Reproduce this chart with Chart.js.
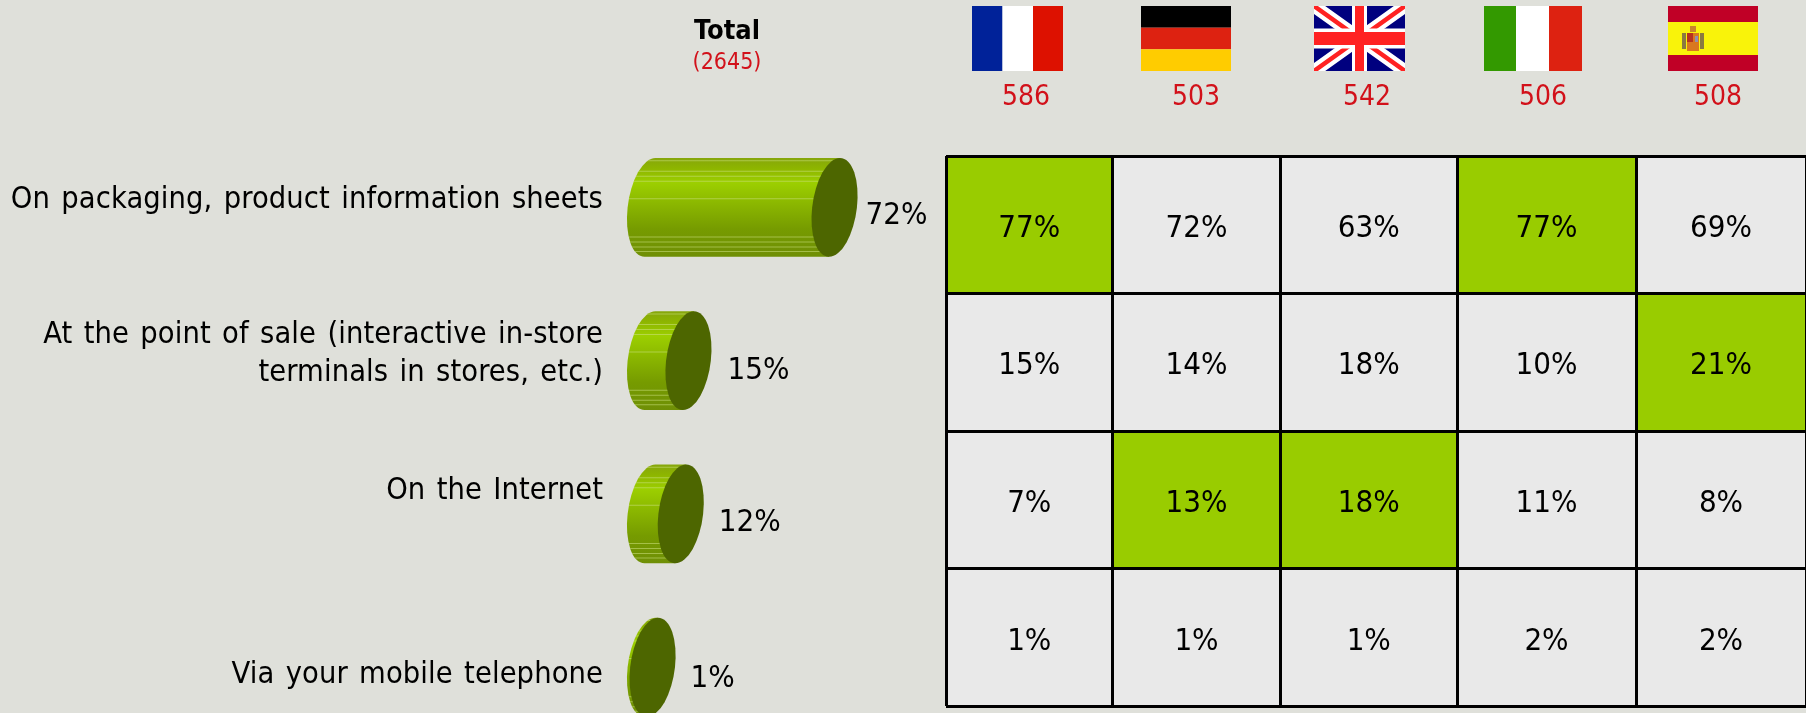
<!DOCTYPE html>
<html>
<head>
<meta charset="utf-8">
<title>Total and country table</title>
<script src="https://cdn.jsdelivr.net/npm/chart.js@4"></script>
<style>
    html, body { margin: 0; width: 1806px; height: 713px; overflow: hidden; background: #dfe0da; }
    canvas { position: absolute; left: 0; top: 0; }
</style>
</head>
<body>
<canvas id="totalChart" width="1806" height="760"></canvas>
<canvas id="tableChart" width="1806" height="713"></canvas>
<script>
const rows = [
    ["On packaging, product information sheets"],
    ["At the point of sale (interactive in-store", "terminals in stores, etc.)"],
    ["On the Internet"],
    ["Via your mobile telephone"]
];
const totalValues = [72, 15, 12, 1];
const totalBase = 2645;

const countries = ["France", "Germany", "United Kingdom", "Italy", "Spain"];
const sampleSizes = [586, 503, 542, 506, 508];

const franceValues = [77, 15, 7, 1];
const germanyValues = [72, 14, 13, 1];
const ukValues = [63, 18, 18, 1];
const italyValues = [77, 10, 11, 2];
const spainValues = [69, 21, 8, 2];
const countryValues = [franceValues, germanyValues, ukValues, italyValues, spainValues];

// [row, country] of the green cells
const highlighted = [[0, 0], [0, 3], [1, 4], [2, 1], [2, 2]];

// layout
const FONT = '"DejaVu Sans Condensed", "DejaVu Sans", sans-serif';
const GREEN = "#99cc00";
const DARK_GREEN = "#4d6600";
const CELL_GREY = "#e9e9e9";
const RED = "#d2111a";
const columnWidths = [166.5, 168, 176.5, 179, 170];
const labelBaselines = [[208], [342.5, 380.5], [499], [683]];
const valueOffsets = [[8, 17], [16, 18], [15, 17], [15, 20]];
const countX = [1026, 1196, 1367, 1543, 1718];
const streaks = [0.03, 0.135, 0.185, 0.236, 0.414, 0.8, 0.85, 0.9, 0.945];

function drawText(ctx, str, x, y, font, color, align) {
    ctx.font = font;
    ctx.fillStyle = color;
    ctx.textAlign = align || "left";
    ctx.textBaseline = "alphabetic";
    ctx.fillText(str, x, y);
}

function shellGradient(ctx, top, bottom) {
    const g = ctx.createLinearGradient(0, top, 0, bottom);
    g.addColorStop(0, "#86a60c");
    g.addColorStop(0.1, "#8db400");
    g.addColorStop(0.25, "#9ccf00");
    g.addColorStop(0.5, "#88b300");
    g.addColorStop(0.72, "#769b00");
    g.addColorStop(1, "#6f8f06");
    return g;
}

// Cylinders are drawn in place of the plain bars, from each bar's own base, head and height
const cylinderPlugin = {
    id: "cylinders",
    beforeDatasetDraw(chart, args) {
        const ctx = chart.ctx;
        const capWidth = 22.4;
        const skew = 0.11;
        args.meta.data.forEach(bar => {
            const h = bar.height / 2;
            ctx.save();
            ctx.translate(0, bar.y);
            ctx.transform(1, 0, -skew, 1, 0, 0);

            ctx.beginPath();
            ctx.ellipse(bar.base, 0, capWidth, h, 0, -Math.PI / 2, Math.PI / 2, true);
            ctx.lineTo(bar.x, h);
            ctx.lineTo(bar.x, -h);
            ctx.closePath();
            ctx.fillStyle = shellGradient(ctx, -h, h);
            ctx.fill();
            ctx.clip();

            ctx.strokeStyle = "rgba(205, 225, 130, 0.55)";
            ctx.lineWidth = 1;
            streaks.forEach(s => {
                const y = -h + s * 2 * h;
                ctx.beginPath();
                ctx.moveTo(bar.base - 40, y);
                ctx.lineTo(bar.x + 10, y);
                ctx.stroke();
            });
            ctx.restore();

            ctx.save();
            ctx.translate(bar.x, bar.y);
            ctx.transform(1, 0, -skew, 1, 0, 0);
            ctx.beginPath();
            ctx.ellipse(0, 0, capWidth, h, 0, 0, Math.PI * 2);
            ctx.fillStyle = DARK_GREEN;
            ctx.fill();
            ctx.restore();
        });
        return false;
    },
    afterDraw(chart) {
        const ctx = chart.ctx;
        const bars = chart.getDatasetMeta(0).data;
        rows.forEach((lines, i) => {
            ctx.save();
            ctx.letterSpacing = "0.1px";
            ctx.wordSpacing = "2.5px";
            lines.forEach((line, n) => {
                drawText(ctx, line, 603, labelBaselines[i][n], "30.5px " + FONT, "#000", "right");
            });
            ctx.restore();
            drawText(ctx, totalValues[i] + "%", bars[i].x + 23 + valueOffsets[i][0], bars[i].y + valueOffsets[i][1],
                "31px " + FONT, "#000");
        });
        drawText(ctx, "Total", 727, 39, "bold 27px " + FONT, "#000", "center");
        drawText(ctx, "(" + totalBase + ")", 727, 69, "23px " + FONT, RED, "center");
    }
};

function band(ctx, color, x, y, w, h) {
    ctx.fillStyle = color;
    ctx.fillRect(x, y, w, h);
}

function drawFlags(ctx) {
    const top = 6, h = 65;
    band(ctx, "#002299", 972, top, 30.5, h);
    band(ctx, "#ffffff", 1002.5, top, 30.5, h);
    band(ctx, "#dd1100", 1033, top, 30, h);

    band(ctx, "#000000", 1141, top, 90, 21.7);
    band(ctx, "#dd2211", 1141, 27.7, 90, 21.6);
    band(ctx, "#ffcc00", 1141, 49.3, 90, 21.7);

    // union flag
    const ux = 1314, uw = 91;
    ctx.save();
    ctx.beginPath();
    ctx.rect(ux, top, uw, h);
    ctx.clip();
    band(ctx, "#00007f", ux, top, uw, h);
    ctx.strokeStyle = "#ffffff";
    ctx.lineWidth = 13;
    ctx.beginPath();
    ctx.moveTo(ux, top); ctx.lineTo(ux + uw, top + h);
    ctx.moveTo(ux + uw, top); ctx.lineTo(ux, top + h);
    ctx.stroke();
    ctx.strokeStyle = "#ff2222";
    ctx.lineWidth = 4.5;
    ctx.beginPath();
    ctx.moveTo(ux, top); ctx.lineTo(ux + uw, top + h);
    ctx.moveTo(ux + uw, top); ctx.lineTo(ux, top + h);
    ctx.stroke();
    band(ctx, "#ffffff", ux + uw / 2 - 7.5, top, 15, h);
    band(ctx, "#ffffff", ux, top + h / 2 - 10, uw, 20);
    band(ctx, "#ff2222", ux + uw / 2 - 4.5, top, 9, h);
    band(ctx, "#ff2222", ux, top + h / 2 - 6.5, uw, 13);
    ctx.restore();

    band(ctx, "#339900", 1484, top, 32, h);
    band(ctx, "#ffffff", 1516, top, 33, h);
    band(ctx, "#dd2211", 1549, top, 33, h);

    // spanish flag with a small coat of arms
    band(ctx, "#c00026", 1668, top, 90, h);
    band(ctx, "#f9f30a", 1668, 22, 90, 33);
    band(ctx, "#d9781f", 1687, 33, 12, 18);
    band(ctx, "#b8321e", 1687, 33, 6, 9);
    band(ctx, "#8f8fb0", 1695, 36, 3, 6);
    band(ctx, "#8a7a40", 1682, 33, 4, 16);
    band(ctx, "#8a7a40", 1700, 33, 4, 16);
    band(ctx, "#c8862a", 1690, 26, 6, 6);
}

const tablePlugin = {
    id: "tableText",
    afterDraw(chart) {
        const ctx = chart.ctx;
        const y = chart.scales.y;
        let edge = 0;
        countryValues.forEach((values, c) => {
            const middle = chart.scales.x.getPixelForValue(edge + columnWidths[c] / 2);
            edge += columnWidths[c];
            values.forEach((v, r) => {
                drawText(ctx, v + "%", middle, y.getPixelForValue(r) + 12, "31px " + FONT, "#000", "center");
            });
            drawText(ctx, String(sampleSizes[c]), countX[c], 105, "28px " + FONT, RED, "center");
        });
        drawFlags(ctx);
    }
};

function drawTotalChart() {
    new Chart(document.getElementById("totalChart"), {
        type: "bar",
        data: {
            labels: rows.map(r => r.join(" ")),
            datasets: [{
                label: "Total",
                data: totalValues,
                backgroundColor: GREEN,
                barPercentage: 0.646,
                categoryPercentage: 1
            }]
        },
        plugins: [cylinderPlugin],
        options: {
            indexAxis: "y",
            responsive: false,
            animation: false,
            layout: { padding: { left: 650, right: 899.7, top: 130.75, bottom: 16.25 } },
            plugins: { legend: { display: false }, tooltip: { enabled: false } },
            scales: {
                x: { display: false, min: 0, max: 100 },
                y: { display: false }
            }
        }
    });
}

function drawTableChart() {
    const total = columnWidths.reduce((a, b) => a + b, 0);
    new Chart(document.getElementById("tableChart"), {
        type: "bar",
        data: {
            labels: rows.map(r => r.join(" ")),
            datasets: countries.map((name, c) => ({
                label: name,
                data: rows.map(() => columnWidths[c]),
                backgroundColor: rows.map((_, r) =>
                    highlighted.some(h => h[0] === r && h[1] === c) ? GREEN : CELL_GREY
                ),
                barPercentage: 1,
                categoryPercentage: 1
            }))
        },
        plugins: [tablePlugin],
        options: {
            indexAxis: "y",
            responsive: false,
            animation: false,
            layout: { padding: { left: 946, right: 0, top: 156, bottom: 6.7 } },
            plugins: { legend: { display: false }, tooltip: { enabled: false } },
            scales: {
                x: {
                    stacked: true,
                    min: 0,
                    max: total,
                    afterBuildTicks(scale) {
                        let edge = 0;
                        scale.ticks = [{ value: 0 }].concat(columnWidths.map(w => ({ value: edge += w })));
                    },
                    ticks: { display: false },
                    border: { display: false },
                    grid: { color: "#000", lineWidth: 3, drawTicks: false, z: 1 }
                },
                y: {
                    stacked: true,
                    ticks: { display: false },
                    border: { display: false },
                    grid: { color: "#000", lineWidth: 3, drawTicks: false, offset: true, z: 1 }
                }
            }
        }
    });
}

drawTotalChart();
drawTableChart();
</script>
</body>
</html>
